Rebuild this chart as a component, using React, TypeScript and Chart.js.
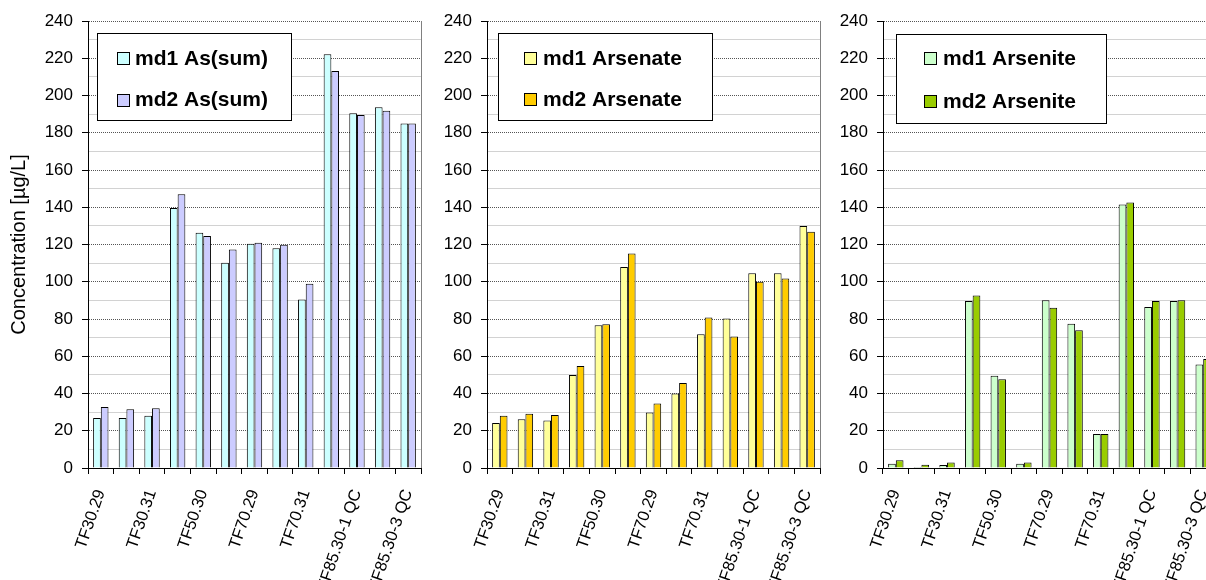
import React, { useEffect, useRef } from "react";
import { Chart, registerables } from "chart.js";

Chart.register(...registerables);

const FONT = "'Liberation Sans', Arial, Helvetica, sans-serif";

// ---- Data ----
const categories = [
  "TF30.29", "TF30.30", "TF30.31", "TF50.29", "TF50.30", "TF50.31",
  "TF70.29", "TF70.30", "TF70.31", "TF85.29", "TF85.30-1 QC", "TF85.30-2 QC", "TF85.30-3 QC",
];

const md1Sum = [26.8, 26.8, 28, 139.6, 126.3, 110.2, 120.4, 118, 90.5, 222.1, 190.5, 193.7, 185];
const md2Sum = [32.7, 31.6, 32.1, 147, 124.6, 117.3, 120.9, 119.8, 98.9, 213.2, 189.5, 191.8, 185];

const md1Arsenate = [24.2, 26.2, 25.5, 49.9, 76.7, 107.9, 29.8, 40, 71.8, 80.3, 104.6, 104.6, 129.9];
const md2Arsenate = [28, 29.1, 28.5, 54.8, 77.2, 115.2, 34.6, 45.6, 80.8, 70.6, 100, 101.8, 126.8];

const md1Arsenite = [2.3, 0.5, 1.6, 89.6, 49.5, 2.3, 90.1, 77.5, 18.3, 141.5, 86.5, 89.6, 55.6];
const md2Arsenite = [4.1, 1.8, 3, 92.6, 47.7, 3, 86, 73.9, 18.3, 142.6, 89.6, 90.1, 58.5];

const yTitle = "Concentration [µg/L]";

type PanelDef = {
  left: number;
  width: number;
  yWidth: number;
  title?: string;
  labels: [string, string];
  values: [number[], number[]];
  colors: [string, string];
  legend: { dx: number; top: number; w: number; h: number; mx: number; tx: number; rows: [number, number] };
};

const CANVAS_H = 640;
const AXIS_BOTTOM = 468;
const PLOT_TOP = 21;
const PLOT_W = 333;

const panels: PanelDef[] = [
  {
    left: 0, width: 430, yWidth: 88, title: yTitle,
    labels: ["md1 As(sum)", "md2 As(sum)"],
    values: [md1Sum, md2Sum],
    colors: ["#CCFFFF", "#CCCCFF"],
    legend: { dx: 9, top: 33, w: 194, h: 87, mx: 20, tx: 38, rows: [58, 99.5] },
  },
  {
    left: 420, width: 410, yWidth: 67,
    labels: ["md1 Arsenate", "md2 Arsenate"],
    values: [md1Arsenate, md2Arsenate],
    colors: ["#FFFF99", "#FFCC00"],
    legend: { dx: 11, top: 33, w: 214, h: 87, mx: 26, tx: 45, rows: [58, 99] },
  },
  {
    left: 820, width: 406, yWidth: 63,
    labels: ["md1 Arsenite", "md2 Arsenite"],
    values: [md1Arsenite, md2Arsenite],
    colors: ["#CCFFCC", "#99CC00"],
    legend: { dx: 13, top: 34, w: 210, h: 89, mx: 28, tx: 47, rows: [58, 101] },
  },
];

const frameAndLegend = {
  id: "frameAndLegend",
  afterDatasetsDraw(chart: any, _args: any, opts: any) {
    const { ctx, chartArea } = chart;
    ctx.save();
    ctx.strokeStyle = "#808080";
    ctx.lineWidth = 1;
    ctx.beginPath();
    const rx = Math.round(chartArea.right) + 0.5;
    ctx.moveTo(rx, chartArea.top);
    ctx.lineTo(rx, chartArea.bottom);
    ctx.stroke();

    if (opts && opts.box) {
      const b = opts.box;
      const x = Math.round(chartArea.left + b.dx);
      const y = b.top;
      ctx.fillStyle = "#ffffff";
      ctx.fillRect(x, y, b.w, b.h);
      ctx.strokeStyle = "#000000";
      ctx.strokeRect(x + 0.5, y + 0.5, b.w, b.h);
      ctx.font = `bold 21px ${FONT}`;
      ctx.textBaseline = "middle";
      ctx.textAlign = "left";
      chart.data.datasets.forEach((ds: any, i: number) => {
        const cy = b.rows[i];
        const mx = x + b.mx;
        ctx.fillStyle = ds.backgroundColor;
        ctx.fillRect(mx, Math.round(cy - 6), 12, 12);
        ctx.strokeStyle = "#000";
        ctx.strokeRect(mx + 0.5, Math.round(cy - 6) + 0.5, 12, 12);
        ctx.fillStyle = "#000";
        ctx.fillText(ds.label, x + b.tx, cy + 1);
      });
    }
    ctx.restore();
  },
};

function Panel({ def }: { def: PanelDef }) {
  const ref = useRef<HTMLCanvasElement | null>(null);
  useEffect(() => {
    if (!ref.current) return;
    const chart = new Chart(ref.current, {
      type: "bar",
      data: {
        labels: categories,
        datasets: def.values.map((vals, i) => ({
          label: def.labels[i],
          data: vals,
          backgroundColor: def.colors[i],
          borderColor: "#000000",
          borderWidth: 1,
          categoryPercentage: 0.6,
          barPercentage: 1.0,
        })),
      },
      options: {
        responsive: false,
        animation: false,
        layout: { padding: { left: 0, right: def.width - (def.yWidth + PLOT_W), top: PLOT_TOP, bottom: 0 } },
        plugins: {
          legend: { display: false },
          tooltip: { enabled: false },
          frameAndLegend: { box: def.legend },
        } as any,
        scales: {
          x: {
            ticks: {
              autoSkip: false,
              minRotation: 71,
              maxRotation: 71,
              color: "#000",
              font: { family: FONT, size: 16.5 },
              padding: 13,
              callback: (_v: any, i: number) => (i % 2 === 0 ? categories[i] : ""),
            },
            grid: { drawOnChartArea: false, offset: true, tickLength: 6, tickColor: "#000" },
            border: { color: "#000", width: 1 },
            afterFit: (s: any) => {
              s.height = CANVAS_H - AXIS_BOTTOM;
              s.paddingLeft = 0;
              s.paddingRight = 0;
            },
          },
          y: {
            min: 0,
            max: 240,
            ticks: {
              stepSize: 10,
              autoSkip: false,
              color: "#000",
              font: { family: FONT, size: 17 },
              padding: 9,
              callback: (v: any) => (Number(v) % 20 === 0 ? String(v) : ""),
            },
            grid: {
              color: (c: any) => (c.tick && c.tick.value % 20 === 0 ? "#555555" : "#d2d2d2"),
              tickColor: (c: any) => (c.tick && c.tick.value % 20 === 0 ? "#000" : "rgba(0,0,0,0)"),
              tickLength: 6,
              lineWidth: 1,
            },
            border: {
              color: "#000",
              width: 1,
              dash: (c: any) => (c.tick && c.tick.value % 20 === 0 ? [1, 1] : []),
            },
            title: def.title
              ? {
                  display: true,
                  text: def.title,
                  color: "#000",
                  font: { family: FONT, size: 20 },
                  padding: { top: 7, bottom: 0 },
                }
              : { display: false },
            afterFit: (s: any) => {
              s.width = def.yWidth;
            },
          },
        },
      },
      plugins: [frameAndLegend],
    } as any);
    return () => chart.destroy();
  }, [def]);

  return (
    <div style={{ position: "absolute", left: def.left, top: 0, width: def.width, height: CANVAS_H }}>
      <canvas ref={ref} width={def.width} height={CANVAS_H} style={{ display: "block", width: def.width, height: CANVAS_H }} />
    </div>
  );
}

export default function App() {
  return (
    <div
      style={{
        position: "absolute",
        left: 0,
        top: 0,
        width: 1206,
        height: 580,
        overflow: "hidden",
        background: "#fff",
      }}
    >
      {panels.map((p, i) => (
        <Panel key={i} def={p} />
      ))}
    </div>
  );
}
